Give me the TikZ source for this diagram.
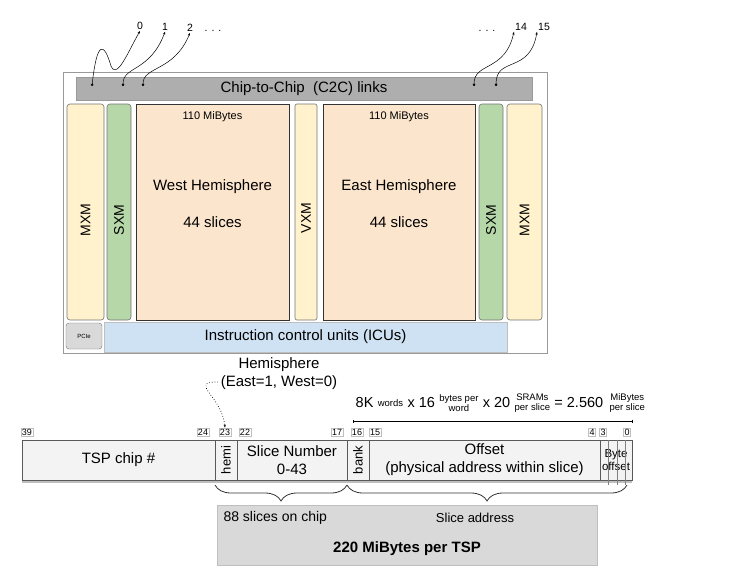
\documentclass[tikz,border=0pt]{standalone}
\usepackage{fontspec}
\setmainfont{Liberation Sans}
\usetikzlibrary{arrows.meta,positioning,decorations.pathreplacing,shadows}

\definecolor{mxmyellow}{HTML}{FFF2CC}
\definecolor{sxmgreen}{HTML}{B6D7A8}
\definecolor{hemorange}{HTML}{FCE5CD}
\definecolor{linkgray}{HTML}{AEAEAE}
\definecolor{icublue}{HTML}{CFE2F3}
\definecolor{pciegray}{HTML}{D9D9D9}
\definecolor{regfill}{HTML}{F3F3F3}
\definecolor{sumgray}{HTML}{D9D9D9}

\newcommand{\fsz}[2]{\fontsize{#1}{#2}\selectfont}

\begin{document}
\begin{tikzpicture}[x=1pt,y=-1pt,font=\fsz{15}{18},
  col/.style={draw=black!55,rounded corners=3pt,minimum height=216,minimum width=#1,inner sep=0pt,outer sep=0pt,line width=0.6pt},
  hem/.style={draw=black!80,fill=hemorange,minimum height=216,minimum width=#1,inner sep=0pt,outer sep=0pt,line width=1pt},
  vtext/.style={rotate=90,font=\fsz{14}{16}},
  field/.style={draw=black!65,fill=regfill,minimum height=40,minimum width=#1,inner sep=0pt,outer sep=0pt,line width=0.8pt,align=center,
    drop shadow={shadow xshift=0pt,shadow yshift=-3pt,fill=black!50}},
  bitnum/.style={draw=black!25,font=\fsz{9}{10},inner sep=1pt},
  linknum/.style={font=\fsz{10.5}{12},inner sep=1pt},
  link/.style={{Circle[length=2.5pt]}-{Stealth[length=3pt]},line width=0.5pt},
  eqbig/.style={font=\fsz{14.5}{17},inner sep=0.5pt},
  eqsmall/.style={font=\fsz{9.5}{10.5},inner sep=0.5pt,align=center},
  brc/.style={decorate,decoration={brace,mirror,amplitude=16pt},draw=black!80,line width=0.8pt}]
\useasboundingbox (0,0) rectangle (749,568);

% chip floorplan
\node[draw=black!40,minimum width=484,minimum height=281,inner sep=0pt] (chip) at (305,212.5) {};
\node[draw=black!40,fill=linkgray,minimum width=456,minimum height=23,inner sep=0pt] (c2c) at (304,88.5) {Chip-to-Chip\ \ (C2C) links};
\node[col=37,fill=mxmyellow] (mxmW) at (85.5,212) {};
\node[col=24,fill=sxmgreen,right=3pt of mxmW] (sxmW) {};
\node[hem=153,right=5pt of sxmW] (west) {};
\node[col=22,fill=mxmyellow,rounded corners=2pt,right=6pt of west] (vxm) {};
\node[hem=152,right=6pt of vxm] (east) {};
\node[col=24,fill=sxmgreen,right=4pt of east] (sxmE) {};
\node[col=35,fill=mxmyellow,right=4pt of sxmE] (mxmE) {};
\node[vtext] at (85.5,220) {MXM};
\node[vtext] at (119,220) {SXM};
\node[vtext] at (306,218) {VXM};
\node[vtext] at (491,220) {SXM};
\node[vtext] at (524.5,220) {MXM};
\node[font=\fsz{11}{12}] at (212.5,117) {110 MiBytes};
\node at (212.5,187) {West Hemisphere};
\node at (212.5,222) {44 slices};
\node[font=\fsz{11}{12}] at (399,117) {110 MiBytes};
\node at (399,187) {East Hemisphere};
\node at (399,222) {44 slices};
\node[draw=black!55,fill=pciegray,rounded corners=3pt,minimum width=36,minimum height=26,inner sep=0pt,font=\fsz{6}{7}] (pcie) at (84,336) {PCIe};
\node[draw=black!25,fill=icublue,minimum width=403,minimum height=30,inner sep=0pt] (icu) at (305.5,337) {Instruction control units (ICUs)};

% C2C links
\coordinate (l0) at (92,86);
\coordinate (l1) at (123,86);
\coordinate (l2) at (143,86);
\coordinate (l14) at (474,86);
\coordinate (l15) at (496,86);
\node[linknum] (n0) at (140,26) {0};
\node[linknum] (n1) at (165,27) {1};
\node[linknum] (n2) at (190,28) {2};
\node[linknum] (n14) at (521,27) {14};
\node[linknum] (n15) at (544,27) {15};
\node[linknum] at (213,31) {. . .};
\node[linknum] at (487,31) {. . .};
\draw[link] (l0) .. controls (97,40) and (104,42) .. (111,66) .. controls (117,80) and (128,52) .. (n0.south);
\draw[link] (l1) .. controls (123,66) and (150,72) .. (n1.south);
\draw[link] (l2) .. controls (143,66) and (174,72) .. (n2.south);
\draw[link] (l14) .. controls (474,62) and (505,72) .. (n14.south west);
\draw[link] (l15) .. controls (496,56) and (530,74) .. (n15.south west);

% hemisphere note
\node[align=center] (hemlbl) at (279,374) {Hemisphere\\(East=1, West=0)};
\coordinate (hemstart) at (218,382);

% slice size
\node[eqbig,anchor=west] (k8) at (355,403) {8K};
\node[eqsmall,right=3pt of k8] (words) {words};
\node[eqbig,right=3pt of words] (x16) {x 16};
\node[eqsmall,right=3pt of x16] (bpw) {bytes per\\word};
\node[eqbig,right=3pt of bpw] (x20) {x 20};
\node[eqsmall,right=3pt of x20] (sram) {SRAMs\\per slice};
\node[eqbig,right=3pt of sram] (mib) {= 2.560};
\node[eqsmall,right=5pt of mib] (pers) {MiBytes\\per slice};
\coordinate (eqL) at (353,421);
\coordinate (eqR) at (633,421);
\draw[{Bar[width=3pt]}-{Bar[width=3pt]},line width=0.6pt] (eqL) -- (eqR);

% bit positions
\foreach \x/\b in {27/39,203/24,225/23,245/22,337/17,357/16,375/15,592/4,603/3,627/0}
  \node[bitnum] (b\b) at (\x,432) {\b};
\draw[dotted,line width=0.7pt,-{Stealth[length=3pt]}] (hemstart) .. controls (188,382) and (222,396) .. (b23.north);

% address register
\node[field=193] (tsp) at (118.5,460) {TSP chip \#};
\node[field=22,right=0pt of tsp] (hemi) {};
\node[field=110,right=0pt of hemi] (slice) {Slice Number\\0-43};
\node[field=22,right=0pt of slice] (bank) {};
\node[field=231,right=0pt of bank] (offset) {Offset\\(physical address within slice)};
\node[field=32,right=0pt of offset,font=\fsz{11.5}{13}] (byteoff) {Byte\\offset};
\node[rotate=90,font=\fsz{13}{14}] at (hemi) {hemi};
\node[rotate=90,font=\fsz{13}{14}] at (bank) {bank};
\foreach \dx in {8,17,25}
  \draw[black!50,line width=0.4pt] ([xshift=\dx pt]byteoff.north west) -- ([xshift=\dx pt,yshift=-5pt]byteoff.south west);

% braces and summary
\draw[brc] ([yshift=-5pt]hemi.south west) -- ([yshift=-5pt]slice.south east);
\draw[brc] ([yshift=-5pt]bank.south west) -- ([xshift=-5pt,yshift=-5pt]byteoff.south east);
\node[draw=black!25,fill=sumgray,minimum width=380,minimum height=60,inner sep=0pt] (total) at (407,535) {};
\node[font=\fsz{14}{16},anchor=west] at (220,518) {88 slices on chip};
\node[font=\fsz{13}{15}] at (475,518) {Slice address};
\node[font=\bfseries\fsz{15}{17}] at (407,549) {220 MiBytes per TSP};
\end{tikzpicture}
\end{document}
